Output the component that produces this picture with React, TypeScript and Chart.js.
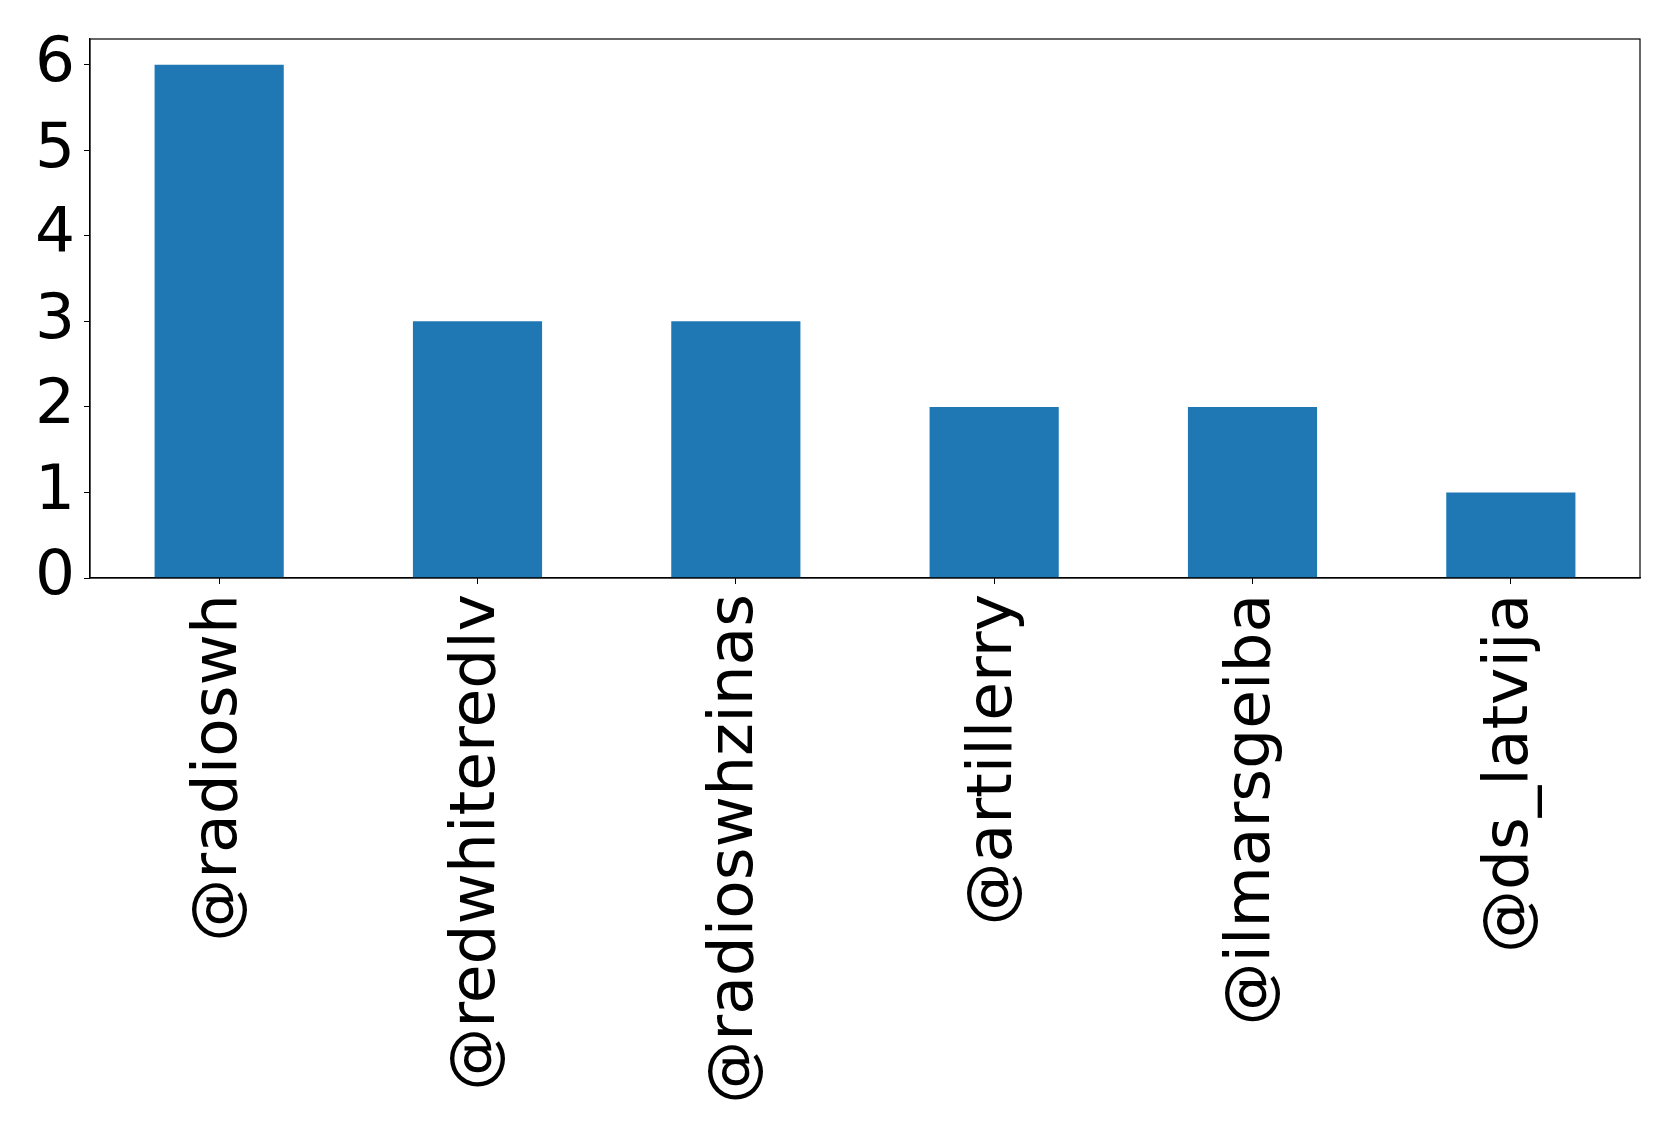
import React, { useEffect, useRef } from "react";
import { Chart, registerables } from "chart.js";

Chart.register(...registerables);

const categories = ["@radioswh", "@redwhiteredlv", "@radioswhzinas", "@artillerry", "@ilmarsgeiba", "@ds_latvija"];
const counts = [6, 3, 3, 2, 2, 1];
const yTicks = [0, 1, 2, 3, 4, 5, 6];

const W = 1679;
const H = 1133;

const framePlugin = {
  id: "frame",
  afterDraw(chart: any) {
    const { ctx, chartArea } = chart;
    ctx.save();
    ctx.strokeStyle = "#000";
    ctx.lineWidth = 1.2;
    ctx.strokeRect(chartArea.left, chartArea.top, chartArea.right - chartArea.left, chartArea.bottom - chartArea.top);
    ctx.restore();
  },
};

export default function App() {
  const ref = useRef<HTMLCanvasElement | null>(null);
  useEffect(() => {
    document.body.style.margin = "0";
    const canvas = ref.current;
    if (!canvas) return;
    const font = { family: "'DejaVu Sans', sans-serif", size: 63 };
    const chart = new Chart(canvas, {
      type: "bar",
      data: {
        labels: categories,
        datasets: [
          {
            data: counts,
            backgroundColor: "#1f77b4",
            borderWidth: 0,
            categoryPercentage: 1,
            barPercentage: 0.5,
          },
        ],
      },
      options: {
        responsive: false,
        animation: false,
        devicePixelRatio: 1,
        layout: { padding: { left: 0, top: 39, right: 39, bottom: 0 } },
        plugins: { legend: { display: false }, tooltip: { enabled: false } },
        scales: {
          x: {
            grid: { display: true, offset: false, drawOnChartArea: false, drawTicks: true, tickLength: 6, color: "#000", lineWidth: 1 },
            border: { display: true, color: "#000", width: 1.2 },
            ticks: { color: "#000", font, minRotation: 90, maxRotation: 90, padding: 10, autoSkip: false },
            afterFit(scale: any) {
              scale.height = H - 578;
              scale.paddingLeft = 0;
              scale.paddingRight = 0;
            },
          },
          y: {
            min: 0,
            max: 6.3,
            afterBuildTicks(scale: any) {
              scale.ticks = yTicks.map((v) => ({ value: v }));
            },
            grid: { display: true, drawOnChartArea: false, drawTicks: true, tickLength: 6, color: "#000", lineWidth: 1 },
            border: { display: true, color: "#000", width: 1.2 },
            ticks: { color: "#000", font, padding: 9 },
            afterFit(scale: any) {
              scale.width = 90;
              scale.paddingTop = 0;
              scale.paddingBottom = 0;
            },
          },
        },
      },
      plugins: [framePlugin],
    });
    return () => chart.destroy();
  }, []);
  return (
    <div style={{ position: "absolute", left: 0, top: 0, width: W, height: H, background: "#fff" }}>
      <canvas ref={ref} width={W} height={H} style={{ width: W, height: H, display: "block" }} />
    </div>
  );
}
